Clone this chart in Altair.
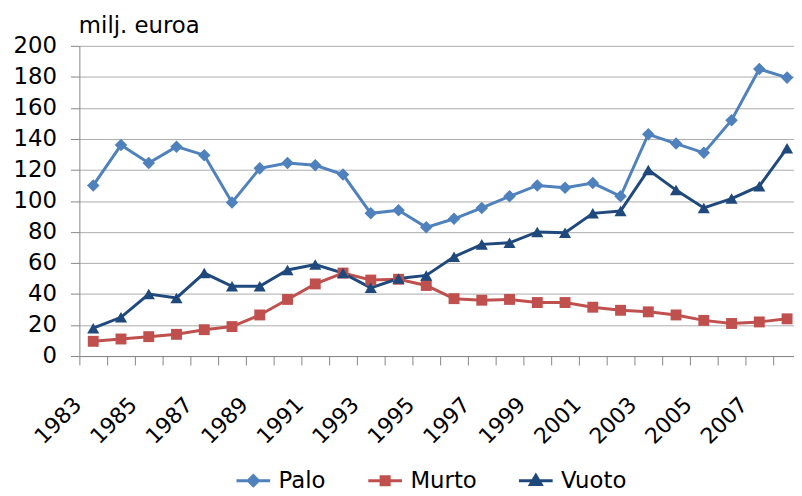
import altair as alt
import pandas as pd

years = list(range(1983, 2009))
palo = [110, 136, 124.5, 135, 129.5, 99, 121, 124.5, 123, 117, 92, 94, 83, 88.5, 95.5, 103,
        110, 108.5, 111.5, 103, 143, 137, 131, 152, 185, 179.5]
murto = [9.5, 11, 12.5, 14, 17, 19, 26.5, 36.5, 46.5, 53.5, 49, 49.5, 45.5, 37, 36, 36.5,
         34.5, 34.5, 31.5, 29.5, 28.5, 26.5, 23, 21, 22, 24]
vuoto = [18, 25, 40, 37.5, 53.5, 45, 45, 55.5, 59, 53.5, 44, 50, 52, 64, 72, 73,
         80, 79.5, 92, 93.5, 120, 107, 95.5, 101.5, 109.5, 134]
series = ["Palo", "Murto", "Vuoto"]
colors = ["#4F81BD", "#C0504D", "#1F497D"]
marker_shapes = ["diamond", "square", "triangle-up"]
marker_sizes = [160, 121, 150]
legend_paths = [
    "M-1,0L1,0M0,-0.3L0.3,0L0,0.3L-0.3,0Z",
    "M-1,0L1,0M-0.24,-0.24L0.24,-0.24L0.24,0.24L-0.24,0.24Z",
    "M-1,0L1,0M0,-0.32L0.32,0.22L-0.32,0.22Z",
]

rows = []
for name, vals in zip(series, [palo, murto, vuoto]):
    for yr, v in zip(years, vals):
        rows.append({"year": yr, "series": name, "value": v})
df = pd.DataFrame(rows)

FONT = "DejaVu Sans"

x_enc = alt.X(
    "year:Q",
    scale=alt.Scale(domain=[1982.5, 2008.25], nice=False, zero=False),
    axis=alt.Axis(
        values=[yr - 0.5 for yr in years],
        grid=False,
        tickSize=9,
        title=None,
        labelAngle=315,
        labelAlign="right",
        labelBaseline="top",
        labelPadding=29,
        labelOffset=-9,
        labelFontSize=22,
        labelFlush=False,
        labelOverlap=False,
        labelExpr="(datum.value + 0.5) % 2 == 1 && datum.value < 2008 ? '' + (datum.value + 0.5) : ''",
    ),
)
y_enc = alt.Y(
    "value:Q",
    scale=alt.Scale(domain=[0, 200], nice=False),
    axis=alt.Axis(
        values=list(range(0, 201, 20)),
        tickSize=9,
        labelPadding=14,
        title="milj. euroa",
        titleAngle=0,
        titleAlign="left",
        titleBaseline="alphabetic",
        titleX=-1,
        titleY=-13,
    ),
)
color_enc = alt.Color("series:N", scale=alt.Scale(domain=series, range=colors))

lines = alt.Chart(df).mark_line(strokeWidth=3).encode(x=x_enc, y=y_enc, color=color_enc)

point_layers = []
for name, shp, sz in zip(series, marker_shapes, marker_sizes):
    point_layers.append(
        alt.Chart(df)
        .transform_filter(alt.datum.series == name)
        .mark_point(filled=True, opacity=1, shape=shp, size=sz)
        .encode(x=x_enc, y=y_enc, color=color_enc)
    )

leg_props = dict(
    orient="none",
    legendX=157,
    legendY=420,
    direction="horizontal",
    title=None,
    labelFont=FONT,
    labelFontSize=23,
    labelColor="#000000",
    symbolSize=1156,
    symbolStrokeWidth=3,
    labelOffset=7,
    columnPadding=36,
)

legend_layer = alt.Chart(df).transform_filter("false").mark_point(filled=True, opacity=1).encode(
    x=x_enc,
    y=y_enc,
    color=alt.Color("series:N", scale=alt.Scale(domain=series, range=colors),
                    legend=alt.Legend(**leg_props)),
    shape=alt.Shape("series:N", scale=alt.Scale(domain=series, range=legend_paths),
                    legend=alt.Legend(**leg_props)),
    stroke=alt.Stroke("series:N", scale=alt.Scale(domain=series, range=colors),
                      legend=alt.Legend(**leg_props)),
)

chart = (
    alt.layer(lines, *point_layers, legend_layer)
    .properties(
        width=721,
        height=313,
        autosize=alt.AutoSizeParams(type="none"),
        padding={"left": 72, "top": 36, "right": 0, "bottom": 135},
    )
    .configure_view(stroke=None)
    .configure_axis(
        labelFont=FONT,
        labelFontSize=23,
        labelColor="#000000",
        titleFont=FONT,
        titleFontSize=23,
        titleFontWeight="normal",
        titleColor="#000000",
        domainColor="#868686",
        tickColor="#868686",
        gridColor="#ababab",
        domainWidth=1,
        tickWidth=1,
        gridWidth=1,
    )
)

chart.save("out.html", embed_options={"renderer": "svg", "actions": False})
